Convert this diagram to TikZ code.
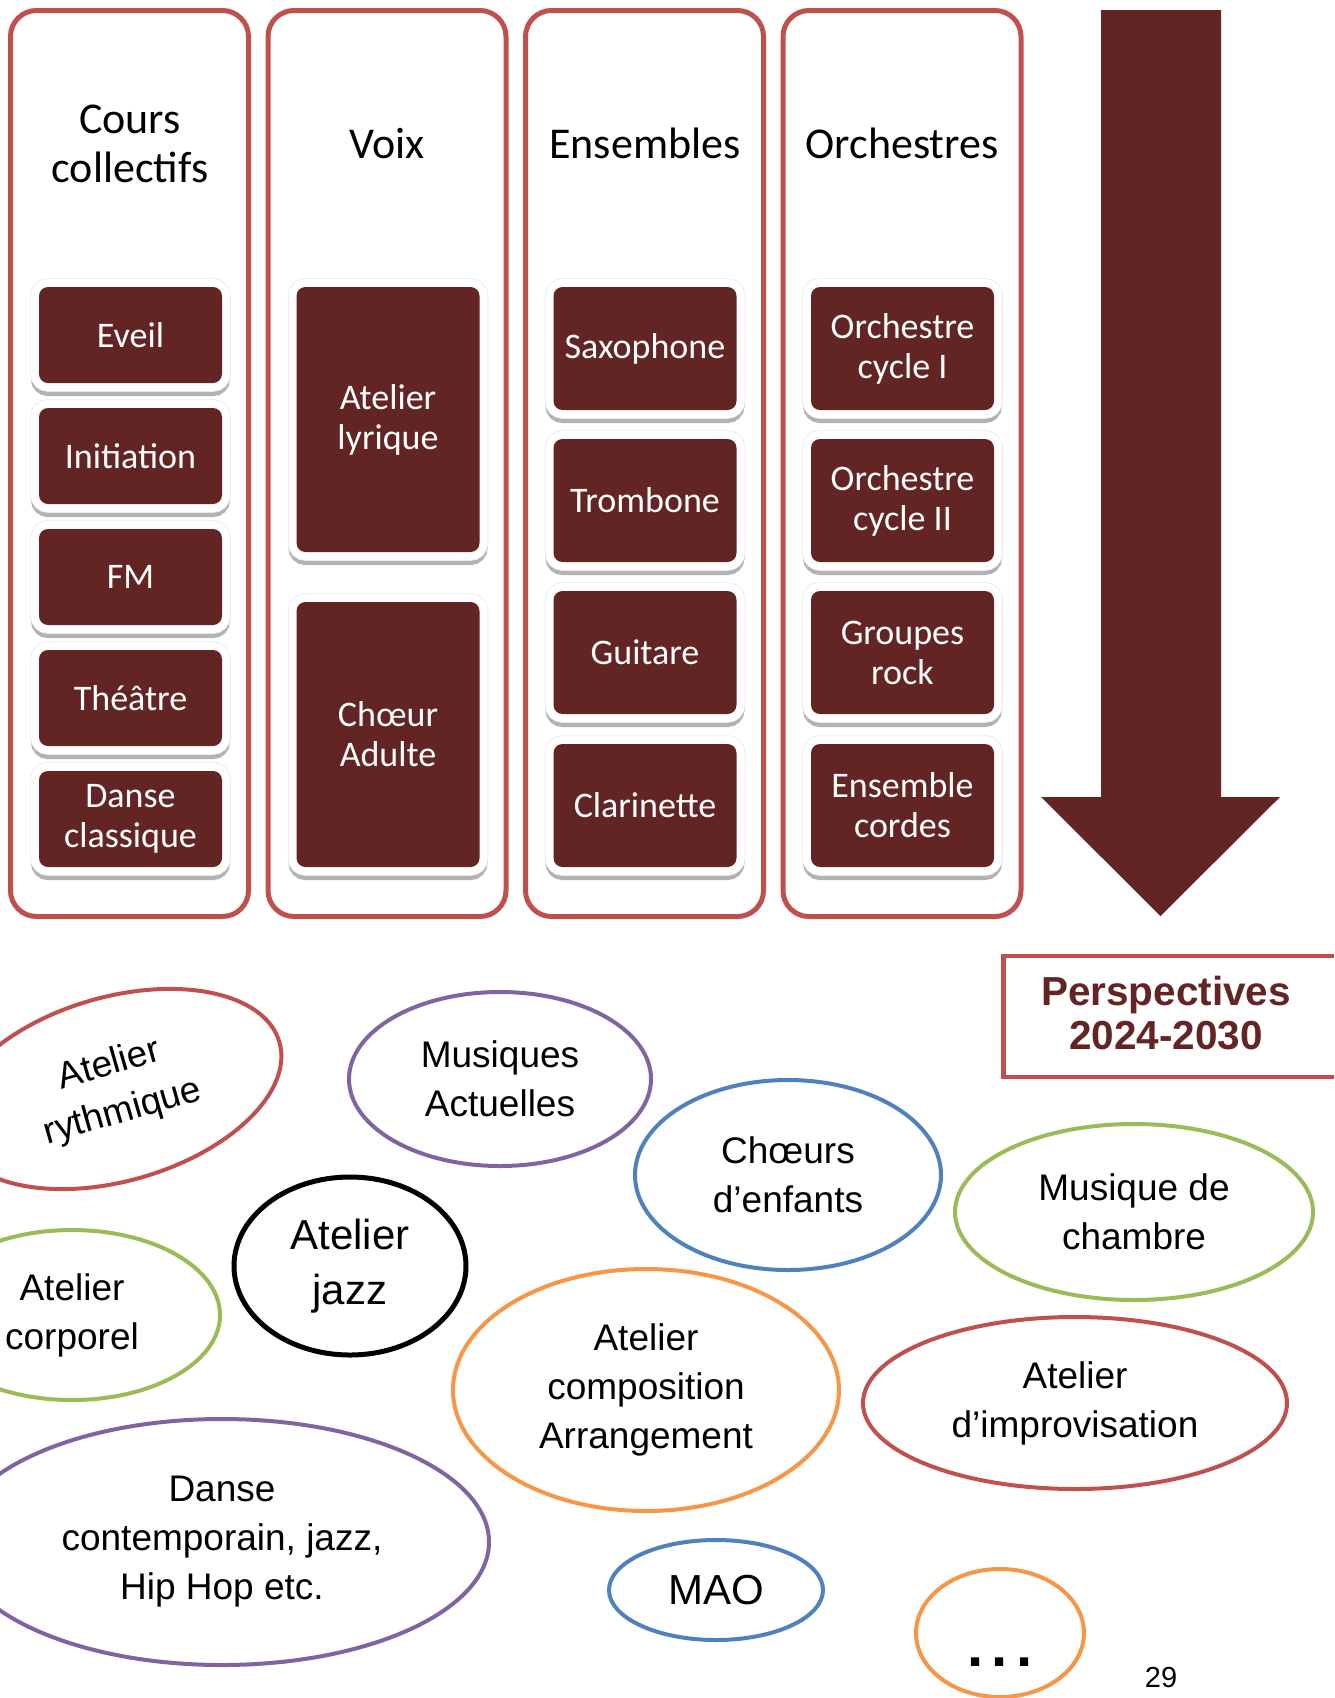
\documentclass[tikz,border=0pt]{standalone}
\usepackage{fontspec}
\setmainfont{Liberation Sans}
\newfontfamily\calibrifont{Carlito}
\usetikzlibrary{shapes.geometric}

\definecolor{boxred}{HTML}{632523}
\definecolor{framered}{HTML}{C0504D}
\definecolor{ovalpurple}{HTML}{8064A2}
\definecolor{ovalblue}{HTML}{4F81BD}
\definecolor{ovalgreen}{HTML}{9BBB59}
\definecolor{ovalorange}{HTML}{F79646}

\tikzset{
    column/.style={rectangle, draw=framered, line width=5pt, rounded corners=26pt, minimum width=238pt, minimum height=906pt, inner sep=0pt},
    coltitle/.style={font=\calibrifont\fontsize{44}{49}\selectfont, align=center, inner sep=0pt},
    course/.style={rectangle, rounded corners=9pt, fill=boxred, text=white, inner sep=0pt, minimum width=183pt, align=center,
        font=\calibrifont\fontsize{36}{40}\selectfont,
        preaction={draw=gray!60, line width=16pt, transform canvas={yshift=-5pt}},
        preaction={draw=gray!18, line width=17.5pt},
        preaction={draw=white, line width=16pt}},
    oval/.style={ellipse, draw, line width=4pt, inner sep=0pt, align=center, font=\fontsize{37}{49}\selectfont}
}

\begin{document}
\begin{tikzpicture}[x=1pt, y=-1pt]
            \useasboundingbox (0,0) rectangle (1334,1698);
            \clip (0,0) rectangle (1334,1698);
            % Columns
            \node[column] (colcours) at (129.5,463.5) {};
            \node[column] (colvoix) at (387,463.5) {};
            \node[column] (colensembles) at (644.5,463.5) {};
            \node[column] (colorchestres) at (902,463.5) {};
            \node[coltitle] (titlecours) at (130,144) {Cours\\collectifs};
            \node[coltitle, anchor=base] (titlevoix) at (387,158) {Voix};
            \node[coltitle, anchor=base] (titleensembles) at (645,158) {Ensembles};
            \node[coltitle, anchor=base] (titleorchestres) at (902,158) {Orchestres};
            % Cours collectifs
            \node[course, minimum height=96pt] (eveil) at (130.5,335) {Eveil};
            \node[course, minimum height=96pt] (initiation) at (130.5,456) {Initiation};
            \node[course, minimum height=96pt] (fm) at (130.5,577) {FM};
            \node[course, minimum height=96pt] (theatre) at (130.5,698) {Théâtre};
            \node[course, minimum height=96pt] (danse) at (130.5,819) {Danse\\classique};
            % Voix
            \node[course, minimum height=265pt] (lyrique) at (388,419.5) {Atelier\\lyrique};
            \node[course, minimum height=265pt] (choeur) at (388,734.5) {Chœur\\Adulte};
            % Ensembles
            \node[course, minimum height=123pt] (saxophone) at (645,348.5) {Saxophone};
            \node[course, minimum height=123pt] (trombone) at (645,500.5) {Trombone};
            \node[course, minimum height=123pt] (guitare) at (645,652.5) {Guitare};
            \node[course, minimum height=123pt] (clarinette) at (645,805.5) {Clarinette};
            % Orchestres
            \node[course, minimum height=123pt] (orchun) at (902.5,348.5) {Orchestre\\cycle I};
            \node[course, minimum height=123pt] (orchdeux) at (902.5,500.5) {Orchestre\\cycle II};
            \node[course, minimum height=123pt] (rock) at (902.5,652.5) {Groupes\\rock};
            \node[course, minimum height=123pt] (cordes) at (902.5,805.5) {Ensemble\\cordes};
            % Big arrow
            \fill[boxred] (1101,10) -- (1221,10) -- (1221,797) -- (1280,797) -- (1160.5,916) -- (1041,797) -- (1101,797) -- cycle;
            % Perspectives
            \node[rectangle, draw=framered, line width=4.5pt, anchor=west, minimum width=360pt, minimum height=121pt] (perspbox) at (1001,1016.5) {};
            \node[align=center, inner sep=0pt, text=boxred, font=\bfseries\fontsize{40.5}{44}\selectfont] (persp) at (1166,1013.5) {Perspectives\\2024-2030};
            % Ovals
            \node[oval, draw=framered, rotate=16, minimum width=340pt, minimum height=184pt] (rythmique) at (116,1089) {Atelier\\rythmique};
            \node[oval, draw=ovalpurple, minimum width=302pt, minimum height=174pt] (actuelles) at (500,1079) {Musiques\\Actuelles};
            \node[oval, draw=ovalblue, minimum width=306pt, minimum height=190pt] (enfants) at (788,1175) {Chœurs\\d’enfants};
            \node[oval, draw=ovalgreen, minimum width=358pt, minimum height=176pt] (chambre) at (1134,1212) {Musique de\\chambre};
            \node[oval, draw=black, line width=5pt, minimum width=232pt, minimum height=178pt, font=\fontsize{42}{55}\selectfont] (jazz) at (350,1266) {Atelier\\jazz};
            \node[oval, draw=ovalgreen, minimum width=296pt, minimum height=170pt] (corporel) at (72,1315) {Atelier\\corporel};
            \node[oval, draw=ovalorange, minimum width=386pt, minimum height=242pt] (composition) at (646,1390) {Atelier\\composition\\Arrangement};
            \node[oval, draw=framered, minimum width=424pt, minimum height=172pt] (improvisation) at (1075,1403) {Atelier\\d’improvisation};
            \node[oval, draw=ovalpurple, minimum width=534pt, minimum height=246pt] (contemporain) at (222,1542) {Danse\\contemporain, jazz,\\Hip Hop etc.};
            \node[oval, draw=ovalblue, minimum width=214pt, minimum height=100pt, font=\fontsize{42}{48}\selectfont] (mao) at (716,1590) {MAO};
            \node[oval, draw=ovalorange, minimum width=168pt, minimum height=128pt, text height=66pt, text depth=0pt, font=\bfseries\fontsize{58}{60}\selectfont] (etc) at (1000,1633) {.\hspace{8pt}.\hspace{8pt}.};
            % Page number
            \node[inner sep=0pt, font=\fontsize{29}{30}\selectfont] (pagenum) at (1161,1677) {29};
\end{tikzpicture}
\end{document}
